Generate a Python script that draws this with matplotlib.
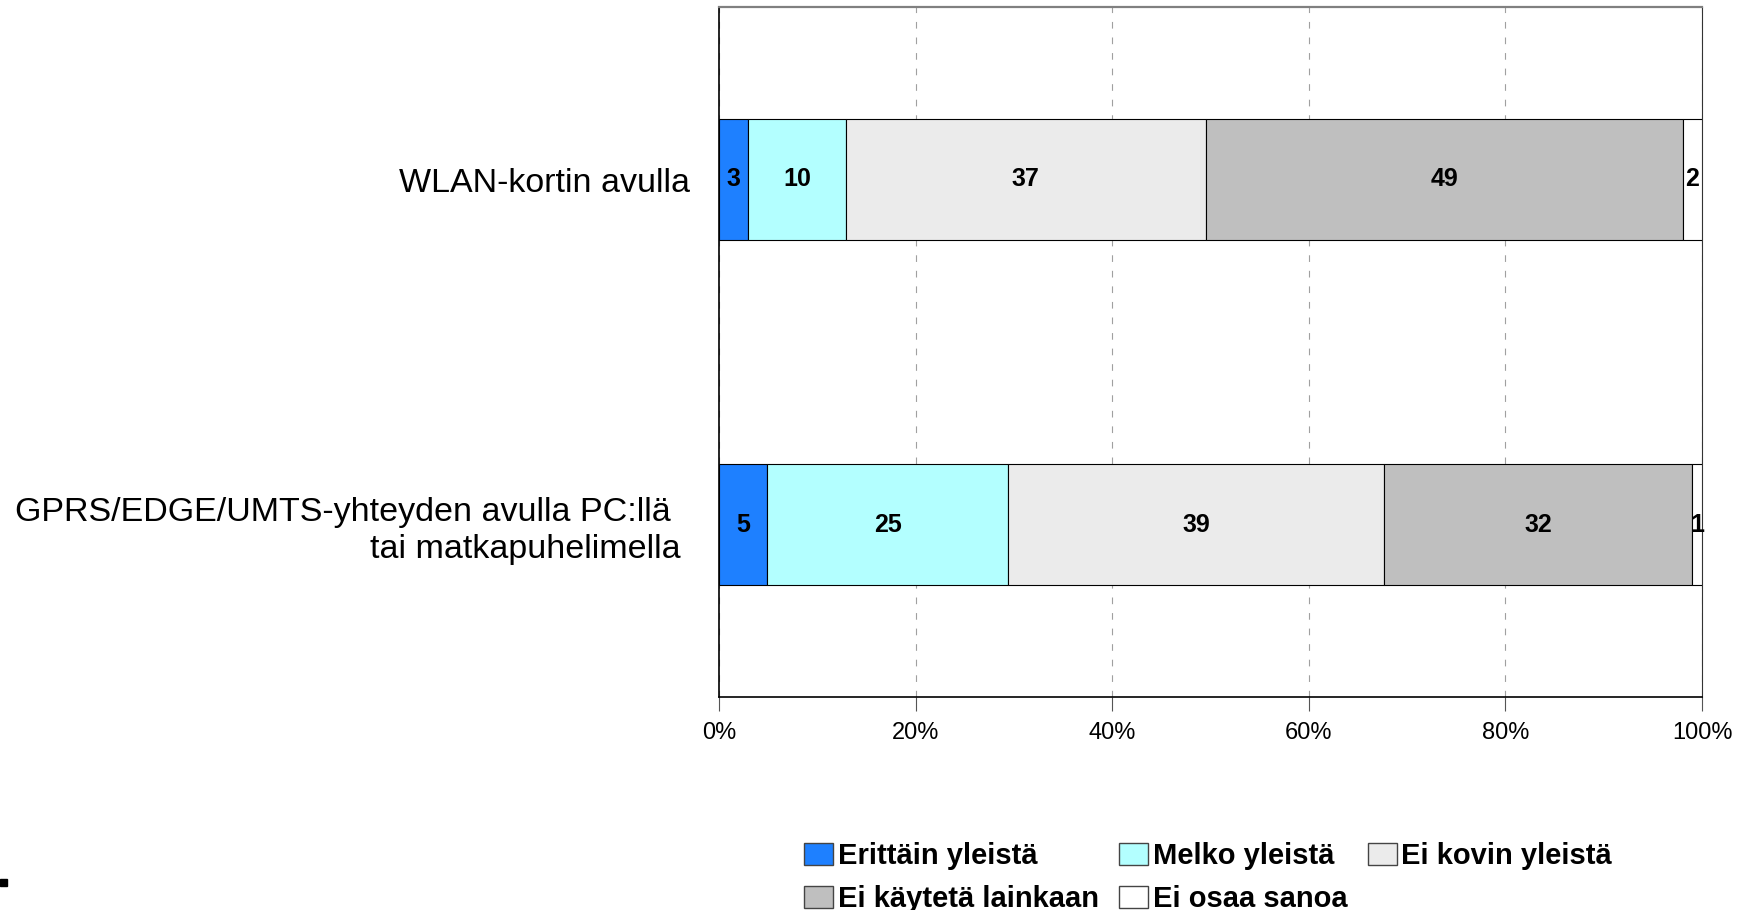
import matplotlib
matplotlib.use("Agg")
import matplotlib.pyplot as plt
import numpy as np
from matplotlib.patches import Rectangle, Patch

plt.rcParams['font.family'] = ['Liberation Sans', 'DejaVu Sans']

categories = ["GPRS/EDGE/UMTS-yhteyden avulla PC:llä  \ntai matkapuhelimella ",
              "WLAN-kortin avulla"]
series = ["Erittäin yleistä", "Melko yleistä", "Ei kovin yleistä",
          "Ei käytetä lainkaan", "Ei osaa sanoa"]
values = np.array([
    [5, 25, 39, 32, 1],   # GPRS/EDGE/UMTS
    [3, 10, 37, 49, 2],   # WLAN
], dtype=float)
colors = ["#1E80FF", "#B3FFFF", "#EBEBEB", "#BFBFBF", "#FFFFFF"]
xticks = [0, 20, 40, 60, 80, 100]
xticklabels = ["0%", "20%", "40%", "60%", "80%", "100%"]

fig = plt.figure(figsize=(17.44, 9.10), dpi=100)
ax = fig.add_axes([719/1744, 1-697/910, (1702-719)/1744, (697-7)/910])

pct = values / values.sum(axis=1, keepdims=True) * 100
ypos = np.arange(len(categories))
left = np.zeros(len(categories))
for j, s in enumerate(series):
    ax.barh(ypos, pct[:, j], left=left, height=0.35, color=colors[j],
            edgecolor="black", linewidth=0.8, label=s, zorder=3)
    for i in range(len(categories)):
        ax.text(left[i] + pct[i, j] / 2, ypos[i], f"{values[i, j]:.0f}",
                ha="center", va="center", fontsize=18, fontweight="bold",
                zorder=4)
    left += pct[:, j]

ax.set_xlim(0, 100)
ax.set_ylim(-0.5, 1.5)
ax.set_xticks(xticks)
ax.set_xticklabels(xticklabels, fontsize=17)
ax.set_yticks(ypos)
ax.set_yticklabels(categories, fontsize=24.5, linespacing=1.25,
                   multialignment="right")
ax.tick_params(axis="y", length=0, pad=21)
ax.tick_params(axis="x", length=10, width=0.8, color="#555555", pad=8)
ax.xaxis.grid(True, color="#A0A0A0", linewidth=0.8, linestyle=(0, (6, 8)),
              zorder=0)
ax.set_axisbelow(True)
for side in ["left", "bottom"]:
    ax.spines[side].set_color("black")
    ax.spines[side].set_linewidth(1.2)
ax.spines["right"].set_color("#333333")
ax.spines["right"].set_linewidth(0.8)
ax.spines["top"].set_color("#808080")
ax.spines["top"].set_linewidth(1.6)

handles = [Patch(facecolor=c, edgecolor="#444444", linewidth=1.0) for c in colors]
order = [0, 3, 1, 4, 2]
leg = fig.legend([handles[k] for k in order], [series[k] for k in order],
                 ncol=3, loc="upper left", bbox_to_anchor=(804/1744, 1-842/910),
                 frameon=False, borderpad=0, borderaxespad=0,
                 prop={"size": 21, "weight": "bold"},
                 handlelength=1.0, handleheight=0.75, handletextpad=0.15,
                 columnspacing=0.7, labelspacing=0.52)

fig.patches.append(Rectangle((0, 1-886/910), 7/1744, 7/910,
                             transform=fig.transFigure, color="black"))

fig.savefig("out.png", dpi=100, facecolor="white")
